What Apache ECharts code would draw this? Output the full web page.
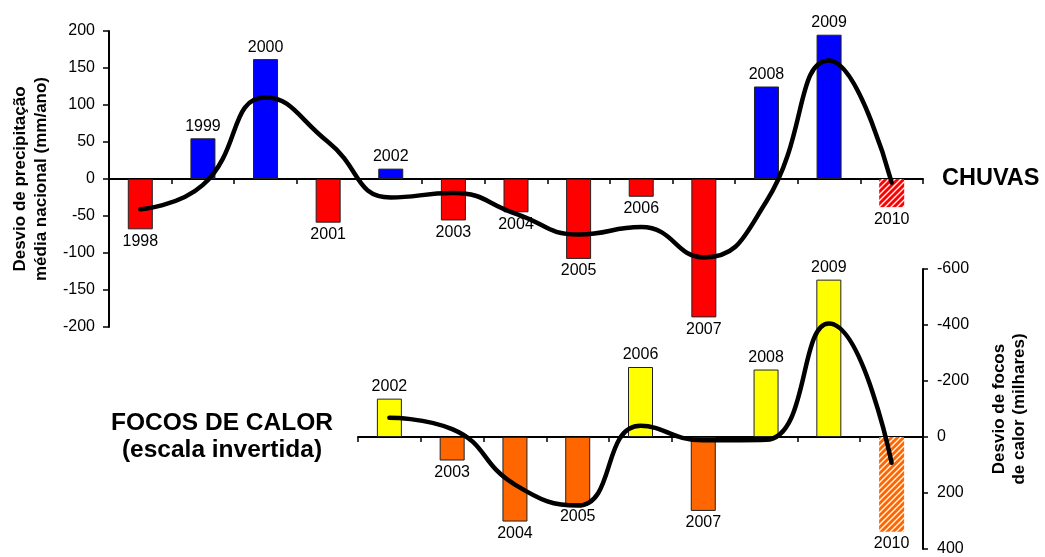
<!DOCTYPE html>
<html>
<head>
<meta charset="utf-8">
<script src="https://cdn.jsdelivr.net/npm/echarts@6/dist/echarts.min.js"></script>
<style>
html,body{margin:0;padding:0;background:#fff;}
#chart{width:1045px;height:557px;}
</style>
</head>
<body>
<div id="chart"></div>
<script>
// ---- data ----
const years = ['1998','1999','2000','2001','2002','2003','2004','2005','2006','2007','2008','2009','2010'];
const chuvas = [-68, 55, 162, -59, 14, -56, -45, -108, -24, -187, 125, 195, -38];
const chuvasTrend = [-41, -8, 110, 50, -25, -19, -47, -75, -65, -106, -30, 160, -5];
const focosYears = ['2002','2003','2004','2005','2006','2007','2008','2009','2010'];
const focos = [-137, 84, 302, 241, -250, 264, -241, -562, 338];
const focosTrend = [-69, -28, 170, 245, -40, 12, 10, -405, 92];
const hatchedYears = ['2010'];

const FONT = "'Liberation Sans', Arial, sans-serif";

function hatch(bg){
  const c = document.createElement('canvas'); c.width = 6; c.height = 6;
  const g = c.getContext('2d');
  g.fillStyle = bg; g.fillRect(0,0,6,6);
  g.strokeStyle = '#fff'; g.lineWidth = 1.3;
  g.beginPath();
  g.moveTo(0,6); g.lineTo(6,0);
  g.moveTo(-1,1); g.lineTo(1,-1);
  g.moveTo(5,7); g.lineTo(7,5);
  g.stroke();
  return {image: c, repeat: 'repeat'};
}

const labelBase = {show: true, formatter: '{b}', fontSize: 16, fontFamily: FONT, color: '#000', distance: 4};

const chuvasBars = chuvas.map((v, i) => {
  const base = v >= 0 ? '#0000FF' : '#FF0000';
  const hatched = hatchedYears.includes(years[i]);
  return {
    value: v,
    itemStyle: hatched ? {color: hatch(base), borderWidth: 0} : {color: base},
    label: {position: v >= 0 ? 'top' : 'bottom'}
  };
});
const focosBars = focos.map((v, i) => {
  const base = v < 0 ? '#FFFF00' : '#FF6600';
  const hatched = hatchedYears.includes(focosYears[i]);
  return {
    value: v,
    itemStyle: hatched ? {color: hatch(base), borderWidth: 0} : {color: base},
    label: {position: v < 0 ? 'top' : 'bottom'}
  };
});

const axisLine = {show: true, onZero: true, lineStyle: {color: '#000', width: 2}};

const chart = echarts.init(document.getElementById('chart'), null, {renderer: 'canvas'});
chart.setOption({
  backgroundColor: '#fff',
  animation: false,
  grid: [
    {left: 109, right: 122, top: 31, height: 296, containLabel: false},
    {left: 358, right: 122, top: 269, height: 281, containLabel: false}
  ],
  xAxis: [
    {type: 'category', gridIndex: 0, data: years, axisLine: axisLine,
     axisTick: {show: true, length: 5, lineStyle: {color: '#000', width: 1.5}},
     axisLabel: {show: false}, splitLine: {show: false}},
    {type: 'category', gridIndex: 1, data: focosYears, axisLine: axisLine,
     axisTick: {show: true, length: 5, lineStyle: {color: '#000', width: 1.5}},
     axisLabel: {show: false}, splitLine: {show: false}}
  ],
  yAxis: [
    {type: 'value', gridIndex: 0, min: -200, max: 200, interval: 50, position: 'left',
     name: 'Desvio de precipitação\nmédia nacional (mm/ano)', nameLocation: 'middle', nameGap: 57,
     nameTextStyle: {fontSize: 17, fontWeight: 'bold', fontFamily: FONT, color: '#000', lineHeight: 21},
     axisLine: {show: true, onZero: false, lineStyle: {color: '#000', width: 2}},
     axisTick: {show: true, length: 6, lineStyle: {color: '#000', width: 1.5}},
     axisLabel: {fontSize: 16, fontFamily: FONT, color: '#000', margin: 14},
     splitLine: {show: false}},
    {type: 'value', gridIndex: 1, min: -600, max: 400, interval: 200, position: 'right', inverse: true,
     name: 'Desvio de focos\nde calor (milhares)', nameLocation: 'middle', nameGap: 66,
     nameTextStyle: {fontSize: 17, fontWeight: 'bold', fontFamily: FONT, color: '#000', lineHeight: 20},
     axisLine: {show: true, onZero: false, lineStyle: {color: '#000', width: 2}},
     axisTick: {show: true, length: 5, lineStyle: {color: '#000', width: 1.5}},
     axisLabel: {fontSize: 16, fontFamily: FONT, color: '#000', margin: 14},
     splitLine: {show: false}}
  ],
  series: [
    {type: 'bar', xAxisIndex: 0, yAxisIndex: 0, barWidth: 25, data: chuvasBars,
     itemStyle: {borderColor: '#222', borderWidth: 1}, label: labelBase},
    {type: 'line', xAxisIndex: 0, yAxisIndex: 0, data: chuvasTrend, smooth: 0.5, symbol: 'none',
     lineStyle: {color: '#000', width: 4.5, cap: 'round'}, z: 5},
    {type: 'bar', xAxisIndex: 1, yAxisIndex: 1, barWidth: 25, data: focosBars,
     itemStyle: {borderColor: '#222', borderWidth: 1}, label: labelBase},
    {type: 'line', xAxisIndex: 1, yAxisIndex: 1, data: focosTrend, smooth: 0.5, symbol: 'none',
     lineStyle: {color: '#000', width: 4.5, cap: 'round'}, z: 5}
  ],
  graphic: [
    {type: 'text', x: 942, y: 179,
     style: {text: 'CHUVAS', fontSize: 23.5, fontWeight: 'bold', fontFamily: FONT, fill: '#000',
             textAlign: 'left', textVerticalAlign: 'middle'}},
    {type: 'text', x: 222, y: 423,
     style: {text: 'FOCOS DE CALOR', fontSize: 24.5, fontWeight: 'bold', fontFamily: FONT, fill: '#000',
             textAlign: 'center', textVerticalAlign: 'middle'}},
    {type: 'text', x: 222, y: 450,
     style: {text: '(escala invertida)', fontSize: 24.5, fontWeight: 'bold', fontFamily: FONT, fill: '#000',
             textAlign: 'center', textVerticalAlign: 'middle'}}
  ]
});
</script>
</body>
</html>
